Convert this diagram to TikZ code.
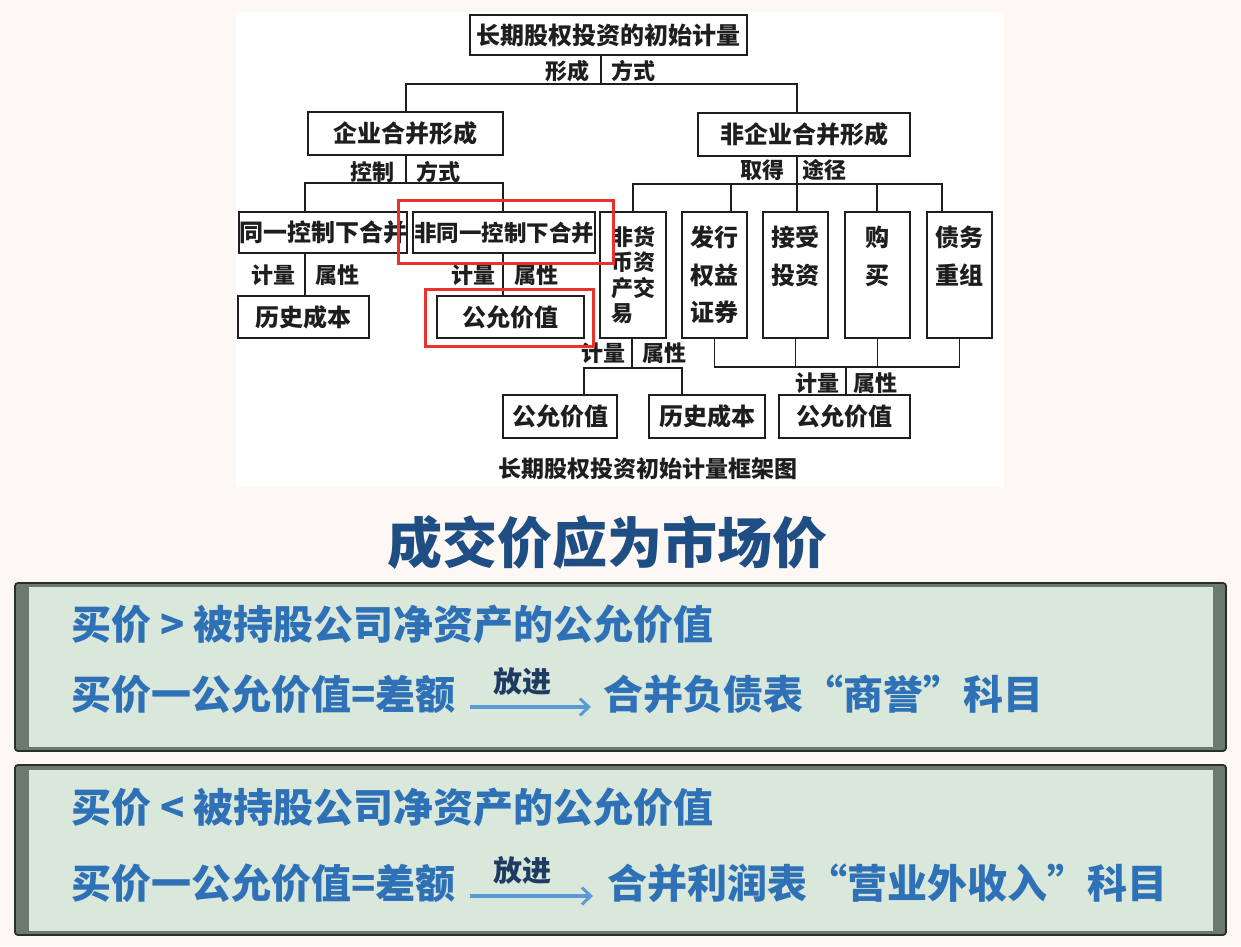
\documentclass[tikz,border=0pt]{standalone}
\usepackage{fontspec}
\newfontfamily\cjk{Noto Sans CJK SC}
\usetikzlibrary{arrows.meta}
\definecolor{bgc}{HTML}{FDF8F3}
\definecolor{ink}{HTML}{1E1E1E}
\definecolor{redc}{HTML}{E8322B}
\definecolor{pfill}{HTML}{D9E8DB}
\definecolor{pbevel}{HTML}{6B7A6D}
\definecolor{pdark}{HTML}{283028}
\definecolor{ptxtc}{HTML}{2E71B6}
\definecolor{titc}{HTML}{1F4E84}
\definecolor{putc}{HTML}{1F3B62}
\definecolor{arrc}{HTML}{5B9BD5}
\newcommand\dfnt{\cjk\bfseries\fontsize{24}{26}\selectfont}
\newcommand\lfnt{\cjk\bfseries\fontsize{22}{24}\selectfont}
\newcommand\vfnt{\cjk\bfseries\fontsize{24}{37.5}\selectfont}
\newcommand\nfnt{\cjk\bfseries\fontsize{22}{25.5}\selectfont}
\newcommand\pfnt{\cjk\bfseries\fontsize{40}{44}\selectfont}
\newcommand\ufnt{\cjk\bfseries\fontsize{29}{32}\selectfont}
\newcommand\tfnt{\cjk\bfseries\fontsize{55}{58}\selectfont}
\newcommand\cfnt{\cjk\bfseries\fontsize{23}{25}\selectfont}
\begin{document}
\begin{tikzpicture}[x=1pt,y=-1pt,
  box/.style={draw=ink, line width=1.8pt, inner sep=0pt, font=\dfnt, text=ink},
  vbox/.style={box, font=\vfnt, align=center, minimum width=65pt, minimum height=126pt},
  lab/.style={font=\lfnt, text=ink, inner sep=0pt},
  ln/.style={draw=ink, line width=1.8pt},
  redbox/.style={draw=redc, line width=3pt, inner sep=0pt},
  ptxt/.style={font=\pfnt, text=ptxtc, inner sep=0pt},
  putxt/.style={font=\ufnt, text=putc, inner sep=0pt},
  arr/.style={draw=arrc, line width=3.4pt, -{Straight Barb[length=9pt,width=17pt,line width=3pt]}}
]
\useasboundingbox (0,0) rectangle (1241,946);
\fill[bgc] (0,0) rectangle (1241,946);
% white panel of the scanned diagram
\fill[white] (236,12) rectangle (1004,487);

% ---------------- boxes ----------------
\node[box, minimum width=277pt, minimum height=40pt] (top) at (608.5,35) {长期股权投资的初始计量};
\node[box, minimum width=195pt, minimum height=43pt] (qy) at (405.5,133.5) {企业合并形成};
\node[box, minimum width=212pt, minimum height=43pt] (fq) at (804,134.5) {非企业合并形成};
\node[box, minimum width=168pt, minimum height=41pt] (tk) at (323,232.5) {同一控制下合并};
\node[box, minimum width=182pt, minimum height=41pt, font=\cjk\bfseries\fontsize{22.5}{24}\selectfont] (ftk) at (504,232.5) {非同一控制下合并};
\node[box, minimum width=66pt, minimum height=126pt, font=\nfnt, align=left] (b1) at (633,275) {非货\\币资\\产交\\易};
\node[vbox] (b2) at (714.5,275) {发行\\权益\\证券};
\node[vbox] (b3) at (795.5,275) {接受\\投资\\\phantom{投资}};
\node[vbox] (b4) at (877.5,275) {购\\买\\\phantom{买}};
\node[vbox] (b5) at (959.5,275) {债务\\重组\\\phantom{重组}};
\node[box, minimum width=131pt, minimum height=42pt] (ls) at (303.5,317) {历史成本};
\node[box, minimum width=147pt, minimum height=42pt] (ms) at (510.5,317) {公允价值};
\node[box, minimum width=114pt, minimum height=43pt] (bl1) at (560,416.5) {公允价值};
\node[box, minimum width=116pt, minimum height=43pt] (bl2) at (707,416.5) {历史成本};
\node[box, minimum width=131pt, minimum height=43pt] (bl3) at (844.5,416.5) {公允价值};

% ---------------- labels ----------------
\node[lab] (xa) at (567,71) {形成};
\node[lab] (xb) at (633,71) {方式};
\node[lab] (ka) at (372,172) {控制};
\node[lab] (kb) at (438,172) {方式};
\node[lab] (qa) at (762,170) {取得};
\node[lab] (qb) at (824,170) {途径};
\node[lab] (ma1) at (273,275) {计量};
\node[lab] (mb1) at (337,275) {属性};
\node[lab] (ma2) at (473,275) {计量};
\node[lab] (mb2) at (536,275) {属性};
\node[lab] (ma3) at (603,353) {计量};
\node[lab] (mb3) at (664,353) {属性};
\node[lab] (ma4) at (817,383) {计量};
\node[lab] (mb4) at (875,383) {属性};
\node[font=\cfnt, text=ink, inner sep=0pt] (cap) at (648,469) {长期股权投资初始计量框架图};

% ---------------- connectors ----------------
\coordinate (h1l) at (406,84);
\coordinate (h1m) at (601,84);
\coordinate (h1r) at (797,84);
\draw[ln] (top.south -| h1m) -- (h1m);
\draw[ln] (h1l |- qy.north) -- (h1l) -- (h1r) -- (h1r |- fq.north);

\coordinate (h2l) at (305,183);
\coordinate (h2m) at (406,183);
\coordinate (h2r) at (503,183);
\draw[ln] (qy.south -| h2m) -- (h2m);
\draw[ln] (h2l |- tk.north) -- (h2l) -- (h2r) -- (h2r |- ftk.north);

\coordinate (h3a) at (633,184);
\coordinate (h3b) at (731,184);
\coordinate (h3c) at (797,184);
\coordinate (h3d) at (877,184);
\coordinate (h3e) at (942,184);
\draw[ln] (h3a |- b1.north) -- (h3a) -- (h3e) -- (h3e |- b5.north);
\draw[ln] (fq.south -| h3c) -- (h3c |- b3.north);
\draw[ln] (h3b) -- (h3b |- b2.north);
\draw[ln] (h3d) -- (h3d |- b4.north);

\coordinate (s1) at (305,296);
\coordinate (s2) at (503,296);
\draw[ln] (tk.south -| s1) -- (s1 |- ls.north);
\draw[ln] (ftk.south -| s2) -- (s2 |- ms.north);

\coordinate (h4l) at (584,368);
\coordinate (h4m) at (632,368);
\coordinate (h4r) at (682,368);
\draw[ln] (b1.south -| h4m) -- (h4m);
\draw[ln] (h4l |- bl1.north) -- (h4l) -- (h4r) -- (h4r |- bl2.north);

\coordinate (h5) at (715,367);
\coordinate (h5s) at (846,367);
\draw[ln] (b2.south) -- (b2.south |- h5) -| (b5.south);
\draw[ln] (b3.south) -- (b3.south |- h5);
\draw[ln] (b4.south) -- (b4.south |- h5);
\draw[ln] (h5s) -- (h5s |- bl3.north);

% ---------------- red highlight boxes ----------------
\node[redbox, minimum width=215pt, minimum height=63pt] (r1) at (505.5,231.5) {};
\node[redbox, minimum width=168pt, minimum height=57pt] (r2) at (509,317.5) {};

% ---------------- title ----------------
\node[font=\tfnt, text=titc, inner sep=0pt] (title) at (607,543) {成交价应为市场价};

% ---------------- panels ----------------
\fill[pbevel, draw=pdark, line width=1.8pt, rounded corners=3pt] (15,583) rectangle (1226,751);
\fill[pfill] (29,587) rectangle (1213,747);
\fill[pbevel, draw=pdark, line width=1.8pt, rounded corners=3pt] (15,765) rectangle (1226,935);
\fill[pfill] (29,770) rectangle (1213,931);

\node[ptxt, anchor=base west] (p1a) at (71,639) {买价 > 被持股公司净资产的公允价值};
\node[ptxt, anchor=base west] (p1b) at (71,709) {买价一公允价值=差额};
\node[ptxt, anchor=base west] (p1c) at (603,709) {合并负债表“商誉”科目};
\node[putxt] (u1) at (522,681) {放进};
\draw[arr] ([xshift=14pt,yshift=2pt]p1b.base east) -- ([xshift=-12pt,yshift=2pt]p1c.base west);

\node[ptxt, anchor=base west] (p2a) at (71,822) {买价 < 被持股公司净资产的公允价值};
\node[ptxt, anchor=base west] (p2b) at (71,898) {买价一公允价值=差额};
\node[ptxt, anchor=base west] (p2c) at (607,898) {合并利润表“营业外收入”科目};
\node[putxt] (u2) at (522,870) {放进};
\draw[arr] ([xshift=14pt,yshift=2pt]p2b.base east) -- ([xshift=-14pt,yshift=2pt]p2c.base west);
\end{tikzpicture}
\end{document}
